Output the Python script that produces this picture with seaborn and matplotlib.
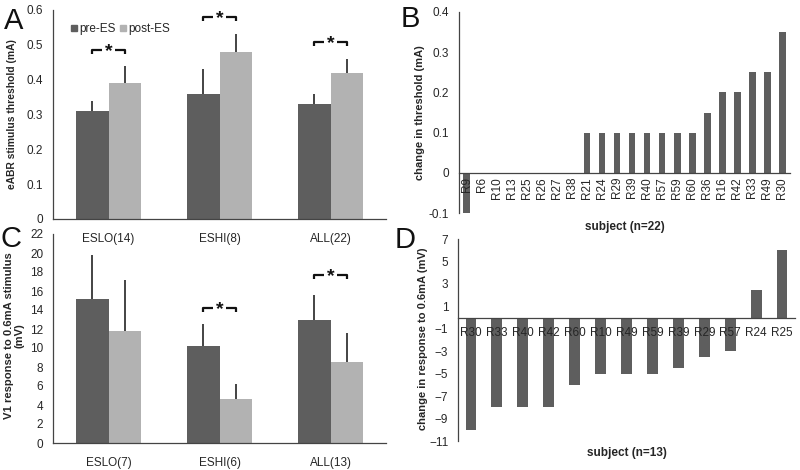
import matplotlib
matplotlib.use("Agg")
import matplotlib.pyplot as plt
import seaborn as sns
import pandas as pd
import numpy as np
from matplotlib.patches import Patch

sns.set_theme(style="white")
plt.rcParams['font.family'] = ['Liberation Sans', 'DejaVu Sans']
plt.rcParams['axes.axisbelow'] = False

DARK = "#5e5e5e"
LIGHT = "#b2b2b2"

# ---- Panel A data ----
a_groups = ["ESLO(14)", "ESHI(8)", "ALL(22)"]
a_pre = [0.31, 0.36, 0.33]
a_post = [0.39, 0.48, 0.42]
a_pre_err = [0.03, 0.07, 0.03]
a_post_err = [0.05, 0.05, 0.04]
a_sig_y = [0.485, 0.58, 0.508]

# ---- Panel C data ----
c_groups = ["ESLO(7)", "ESHI(6)", "ALL(13)"]
c_pre = [15.2, 10.2, 12.9]
c_post = [11.8, 4.6, 8.5]
c_pre_err = [4.6, 2.3, 2.7]
c_post_err = [5.4, 1.6, 3.1]
c_sig = [None, 14.2, 17.7]

# ---- Panel B data ----
b_subjects = ["R9", "R6", "R10", "R13", "R25", "R26", "R27", "R38", "R21", "R24", "R29",
              "R39", "R40", "R57", "R59", "R60", "R36", "R16", "R42", "R33", "R49", "R30"]
b_change = [-0.1, 0, 0, 0, 0, 0, 0, 0, 0.1, 0.1, 0.1, 0.1, 0.1, 0.1, 0.1, 0.1,
            0.15, 0.2, 0.2, 0.25, 0.25, 0.35]

# ---- Panel D data ----
d_subjects = ["R30", "R33", "R40", "R42", "R60", "R10", "R49", "R59", "R39", "R29",
              "R57", "R24", "R25"]
d_change = [-10, -8, -8, -8, -6, -5, -5, -5, -4.5, -3.5, -3, 2.5, 6]

W, H = 800, 470
fig = plt.figure(figsize=(8, 4.7), dpi=100)


def px_axes(x0, x1, ytop, ybot):
    ax = fig.add_axes([x0 / W, 1 - ybot / H, (x1 - x0) / W, (ybot - ytop) / H])
    ax.patch.set_alpha(0)
    ax.set_axisbelow(False)
    return ax


TICK_FS = 8.5


def grouped(ax, groups, pre, post, pre_err, post_err, sig):
    df = pd.DataFrame({
        "group": groups * 2,
        "cond": ["pre-ES"] * len(groups) + ["post-ES"] * len(groups),
        "val": pre + post,
    })
    sns.barplot(data=df, x="group", y="val", hue="cond", order=groups,
                hue_order=["pre-ES", "post-ES"], palette=[DARK, LIGHT],
                width=0.58, gap=0, errorbar=None, ax=ax, legend=False,
                saturation=1, edgecolor="none")
    patches = ax.patches[:2 * len(groups)]
    centers = [p.get_x() + p.get_width() / 2 for p in patches]
    tops = [p.get_height() for p in patches]
    errs = pre_err + post_err
    ax.errorbar(centers, tops, yerr=[np.zeros(len(errs)), errs], fmt="none",
                ecolor="#111111", elinewidth=1.1, capsize=0, zorder=5)
    n = len(groups)
    for i, yv in enumerate(sig):
        if yv is None:
            continue
        xl, xr = centers[i], centers[i + n]
        ylim = ax.get_ylim()
        dy = (ylim[1] - ylim[0]) * 0.02
        xm = (xl + xr) / 2
        gapw = (xr - xl) * 0.2
        ax.plot([xl, xl, xm - gapw], [yv - dy, yv, yv], color="#111111", lw=1.6,
                solid_capstyle="butt", zorder=6)
        ax.plot([xm + gapw, xr, xr], [yv, yv, yv - dy], color="#111111", lw=1.6,
                solid_capstyle="butt", zorder=6)
        ax.text(xm, yv - dy * 0.4, "*", ha="center", va="center", fontsize=14,
                fontweight="bold", color="#111111", zorder=7)
    ax.set_xlim(-0.5, n - 0.5)
    ax.set_xlabel("")
    ax.set_xticks(range(n))
    ax.set_xticklabels(groups, fontsize=TICK_FS)
    ax.set_xticks(np.arange(0.5, n, 1.0), minor=True)
    ax.tick_params(axis="x", which="major", length=0, pad=10)
    ax.tick_params(axis="x", which="minor", length=3, direction="in", color="#444444", width=0.8)
    ax.tick_params(axis="y", length=0, labelsize=TICK_FS, pad=7)


def style_spines(ax):
    for s in ["top", "right"]:
        ax.spines[s].set_visible(False)
    for s in ["left", "bottom"]:
        ax.spines[s].set_color("#444444")
        ax.spines[s].set_linewidth(0.9)


# ---- Panel A ----
axA = px_axes(53, 386, 10, 219)
axA.set_ylim(0, 0.6)
grouped(axA, a_groups, a_pre, a_post, a_pre_err, a_post_err, a_sig_y)
axA.set_yticks(np.arange(0, 0.61, 0.1))
axA.set_yticklabels(["0", "0.1", "0.2", "0.3", "0.4", "0.5", "0.6"])
axA.set_ylabel("eABR stimulus threshold (mA)", fontsize=7.4, fontweight="bold", labelpad=7)
style_spines(axA)
axA.legend(handles=[Patch(color=DARK, label="pre-ES"), Patch(color=LIGHT, label="post-ES")],
           loc="upper left", bbox_to_anchor=(0.04, 0.96), ncol=2, frameon=False,
           handlelength=0.5, handleheight=0.5, handletextpad=0.2, columnspacing=0.4,
           fontsize=8.5, borderaxespad=0)

# ---- Panel C ----
axC = px_axes(53, 386, 234, 443)
axC.set_ylim(0, 22)
grouped(axC, c_groups, c_pre, c_post, c_pre_err, c_post_err, c_sig)
axC.set_yticks(np.arange(0, 23, 2))
axC.set_ylabel("V1 response to 0.6mA stimulus\n(mV)", fontsize=8.1, fontweight="bold",
               linespacing=1.05)
axC.yaxis.set_label_coords(-0.085, 0.515)
style_spines(axC)

# ---- Panel B ----
axB = px_axes(459, 790, 12, 213)
dfB = pd.DataFrame({"subject": b_subjects, "change": b_change})
sns.barplot(data=dfB, x="subject", y="change", order=b_subjects, color=DARK,
            saturation=1, width=0.45, errorbar=None, ax=axB, edgecolor="none")
axB.set_ylim(-0.1, 0.4)
axB.set_xlim(-0.5, len(b_subjects) - 0.5)
axB.set_yticks([-0.1, 0, 0.1, 0.2, 0.3, 0.4])
axB.set_yticklabels(["-0.1", "0", "0.1", "0.2", "0.3", "0.4"])
style_spines(axB)
axB.spines["bottom"].set_position(("data", 0))
axB.set_xticks(range(len(b_subjects)))
axB.set_xticklabels(b_subjects, rotation=90, fontsize=8.5)
axB.set_xticks(np.arange(0.5, len(b_subjects) - 0.5, 1.0), minor=True)
axB.tick_params(axis="x", which="major", length=0, pad=3)
axB.tick_params(axis="x", which="minor", length=3, direction="in", color="#444444", width=0.8)
axB.tick_params(axis="y", length=0, labelsize=TICK_FS, pad=7)
axB.set_ylabel("change in threshold (mA)", fontsize=8, fontweight="bold", labelpad=3)
axB.set_xlabel("subject (n=22)", fontsize=8.5, fontweight="bold")
axB.xaxis.set_label_coords(0.5, -0.04)

# ---- Panel D ----
axD = px_axes(458, 795, 239, 441)
dfD = pd.DataFrame({"subject": d_subjects, "change": d_change})
sns.barplot(data=dfD, x="subject", y="change", order=d_subjects, color=DARK,
            saturation=1, width=0.42, errorbar=None, ax=axD, edgecolor="none")
axD.set_ylim(-11, 7)
axD.set_xlim(-0.5, len(d_subjects) - 0.5)
axD.set_yticks(np.arange(-11, 8, 2))
style_spines(axD)
axD.spines["bottom"].set_position(("data", 0))
axD.set_xticks(range(len(d_subjects)))
axD.set_xticklabels(d_subjects, fontsize=TICK_FS)
axD.set_xticks(np.arange(0.5, len(d_subjects) - 0.5, 1.0), minor=True)
axD.tick_params(axis="x", which="major", length=0, pad=7)
axD.tick_params(axis="x", which="minor", length=3, direction="in", color="#444444", width=0.8)
axD.tick_params(axis="y", length=0, labelsize=TICK_FS, pad=7)
axD.set_ylabel("change in response to 0.6mA (mV)", fontsize=8, fontweight="bold")
axD.yaxis.set_label_coords(-0.088, 0.505)
axD.set_xlabel("subject (n=13)", fontsize=8.5, fontweight="bold")
axD.xaxis.set_label_coords(0.5, -0.03)

# Panel letters
for lbl, x, y in [("A", 4, 7), ("B", 401, 5), ("C", 1, 225), ("D", 395, 226)]:
    fig.text(x / W, 1 - y / H, lbl, fontsize=21, va="top", ha="left", color="#111111")

fig.savefig("out.png", dpi=100, facecolor="white")
